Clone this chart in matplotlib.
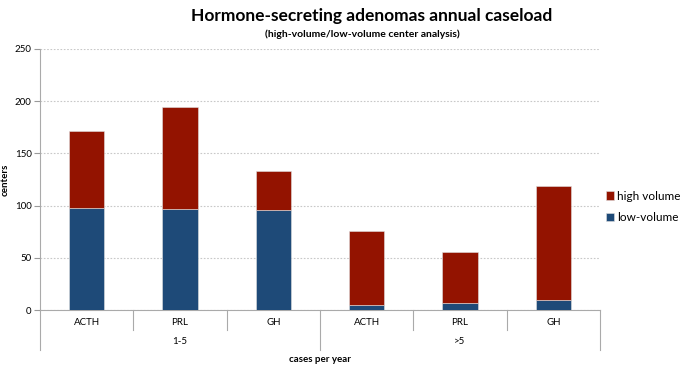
import matplotlib
matplotlib.use("Agg")
import matplotlib.pyplot as plt
import numpy as np

# data
groups = ["1-5", ">5"]
hormones = ["ACTH", "PRL", "GH"]
low_volume = [98, 97, 96, 5, 7, 10]
high_volume = [73, 97, 37, 71, 49, 109]
yticks = [0, 50, 100, 150, 200, 250]

RED = "#931300"
BLUE = "#1e4a78"
GRID = "#c8c8c8"

plt.rcParams["font.family"] = ["Lato", "DejaVu Sans"]

fig = plt.figure(figsize=(6.85, 3.68), dpi=100)
ax = fig.add_axes([40 / 685, 1 - 310 / 368, 560 / 685, 261 / 368])

n = len(low_volume)
x = np.arange(n)
ax.bar(x, low_volume, width=0.38, color=BLUE, edgecolor="#e0e0e0", linewidth=0.4,
       label="low-volume", zorder=3)
ax.bar(x, high_volume, width=0.38, bottom=low_volume, color=RED, edgecolor="#e0e0e0",
       linewidth=0.4, label="high volume", zorder=3)

ax.set_xlim(-0.5, n - 0.5)
ax.set_ylim(0, 250)
ax.set_yticks(yticks)
ax.tick_params(axis="y", labelsize=7, length=4, color="#999999", pad=2)
ax.yaxis.grid(True, linestyle=(0, (1.5, 1.5)), color=GRID, linewidth=0.8, zorder=0)
ax.set_xticks([])
for side in ["top", "right", "bottom"]:
    ax.spines[side].set_visible(False)
ax.spines["left"].set_color("#aaaaaa")
ax.set_ylabel("centers", fontsize=7, fontweight="bold", labelpad=4)

# two-level category axis
tr = ax.get_xaxis_transform()
ax.plot([-0.5, n - 0.5], [0, 0], transform=tr, color="#aaaaaa", lw=0.8, clip_on=False)
for i in range(n + 1):
    xb = i - 0.5
    outer = i % len(hormones) == 0
    ax.plot([xb, xb], [0, -0.153 if outer else -0.077], transform=tr,
            color="#aaaaaa", lw=0.8, clip_on=False)
for i in range(n):
    ax.text(i, -0.048, hormones[i % len(hormones)], transform=tr, ha="center",
            va="center", fontsize=7)
for g, name in enumerate(groups):
    xc = g * len(hormones) + (len(hormones) - 1) / 2
    ax.text(xc, -0.12, name, transform=tr, ha="center", va="center", fontsize=7)
ax.text((n - 1) / 2, -0.188, "cases per year", transform=tr, ha="center", va="center",
        fontsize=7, fontweight="bold")

fig.text(0.542, 0.957, "Hormone-secreting adenomas annual caseload", ha="center",
         va="center", fontsize=12.5, fontweight="bold")
fig.text(0.529, 0.908, "(high-volume/low-volume center analysis)", ha="center",
         va="center", fontsize=7.5, fontweight="bold")

handles, labels = ax.get_legend_handles_labels()
ax.legend(handles[::-1], labels[::-1], loc="center left", bbox_to_anchor=(1.01, 0.395),
          frameon=False, fontsize=8.5, handlelength=0.7, handleheight=0.7,
          handletextpad=0.3, labelspacing=0.9, borderaxespad=0, borderpad=0)

fig.savefig("out.png", dpi=100)
